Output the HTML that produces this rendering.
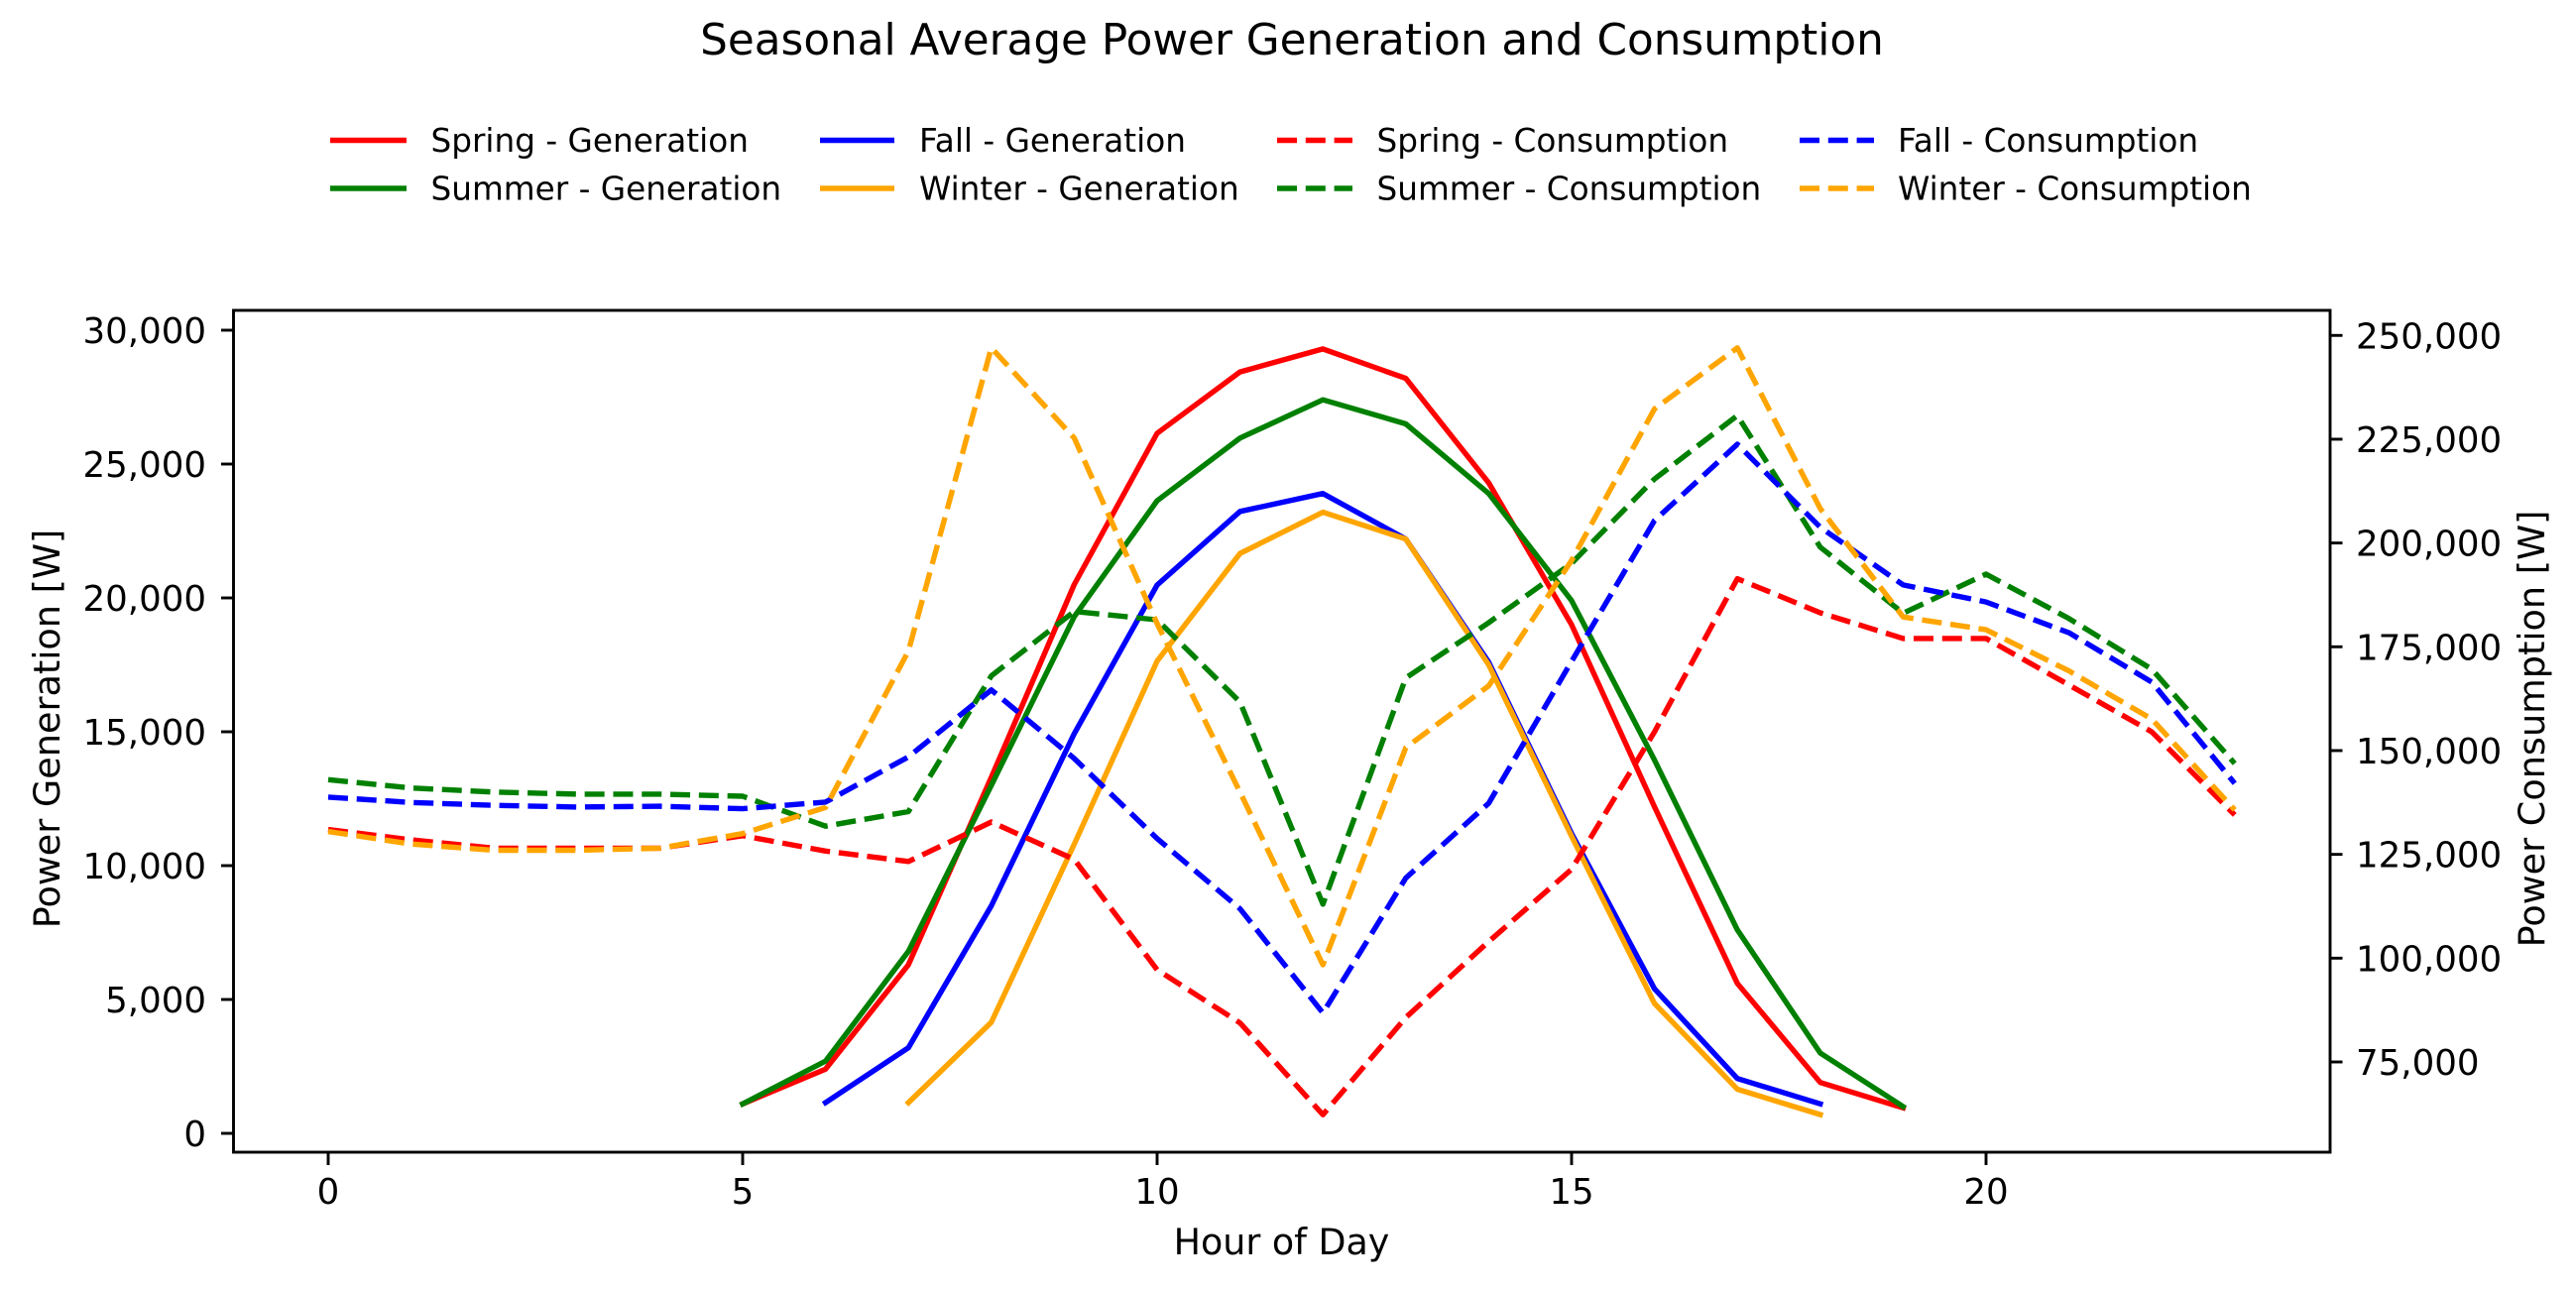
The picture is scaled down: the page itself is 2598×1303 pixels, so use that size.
<!DOCTYPE html>
<html lang="en">
<head>
<meta charset="utf-8">
<title>Seasonal Average Power Generation and Consumption</title>
<style>
html,body{margin:0;padding:0;background:#fff;}
svg{display:block;}
text{font-family:"DejaVu Sans","Liberation Sans",sans-serif;fill:#000;}
</style>
</head>
<body>
<svg id="chart" xmlns="http://www.w3.org/2000/svg" width="2598" height="1303" viewBox="0 0 2598 1303">
<rect x="0" y="0" width="2598" height="1303" fill="#fff"/>
<text x="1303" y="55" font-size="43.7" text-anchor="middle">Seasonal Average Power Generation and Consumption</text>
<g id="legend"></g>
<g id="marks"></g>
<rect x="235.5" y="313" width="2114.5" height="849" fill="none" stroke="#000" stroke-width="2.9"/>
<g id="axes"></g>
<text x="1292.5" y="1265" font-size="36.4" text-anchor="middle">Hour of Day</text>
<text transform="translate(60 735) rotate(-90)" font-size="36.6" text-anchor="middle">Power Generation [W]</text>
<text transform="translate(2566 735) rotate(-90)" font-size="36.6" text-anchor="middle">Power Consumption [W]</text>
</svg>
<script>
const hours = [0,1,2,3,4,5,6,7,8,9,10,11,12,13,14,15,16,17,18,19,20,21,22,23];
const xTicks = [0,5,10,15,20];
const leftTicks = [0,5000,10000,15000,20000,25000,30000];
const rightTicks = [75000,100000,125000,150000,175000,200000,225000,250000];

const springGeneration = [null,null,null,null,null,1100,2400,6300,13300,20500,26150,28440,29300,28200,24300,19000,12200,5600,1900,950,null,null,null,null];
const summerGeneration = [null,null,null,null,null,1100,2700,6800,13000,19300,23630,25970,27400,26500,23900,19900,13950,7600,3000,1000,null,null,null,null];
const fallGeneration = [null,null,null,null,null,null,1150,3200,8500,14930,20480,23230,23900,22200,17600,11200,5400,2050,1100,null,null,null,null,null];
const winterGeneration = [null,null,null,null,null,null,null,1150,4150,10800,17640,21660,23200,22200,17500,11100,4850,1650,700,null,null,null,null,null];

const springConsumption = [131000,128500,126500,126500,126500,129500,125800,123300,132800,123800,97200,84400,62300,85700,104000,121400,154500,191400,183200,177000,177000,165800,154500,134500];
const summerConsumption = [143000,141000,140000,139500,139500,139000,131800,135300,168000,183500,181500,161700,113000,167500,180800,195100,215400,230700,199000,183100,192500,181800,169600,146900];
const fallConsumption = [138800,137500,136800,136400,136600,136000,137600,148500,164600,148100,128800,111900,86800,119300,137300,171500,205400,223800,203800,189900,185800,178400,166500,142100];
const winterConsumption = [130500,127500,126000,126000,126500,130000,136300,174000,247000,225300,180600,140000,98400,150700,165600,195800,232300,247000,208300,182200,179100,169200,157600,135700];

const RED = '#ff0000', GREEN = '#008000', BLUE = '#0000ff', ORANGE = '#ffa500';
const NS = 'http://www.w3.org/2000/svg';

function xScale(h){ return 331 + 83.6 * h; }
function yLeft(v){ return 1143 - 0.027 * v; }
function yRight(v){ return 1071 - (v - 75000) * 0.004187; }

function make(tag, attrs, parent){
  const el = document.createElementNS(NS, tag);
  for (const k in attrs) el.setAttribute(k, attrs[k]);
  parent.appendChild(el);
  return el;
}

const marks = document.getElementById('marks');
const axes = document.getElementById('axes');
const legend = document.getElementById('legend');

function drawSeries(values, yFn, color, dashed, name){
  const pts = [];
  values.forEach(function(v, i){
    if (v !== null) pts.push(xScale(hours[i]).toFixed(1) + ',' + yFn(v).toFixed(1));
  });
  const line = make('polyline', {
    points: pts.join(' '), fill: 'none', stroke: color, 'stroke-width': 5.4,
    'stroke-linejoin': 'round', 'stroke-linecap': dashed ? 'butt' : 'square'
  }, marks);
  if (dashed) line.setAttribute('stroke-dasharray', '20 8.8');
  
  
}

drawSeries(springGeneration, yLeft, RED, false, 'spring-generation-line');
drawSeries(summerGeneration, yLeft, GREEN, false, 'summer-generation-line');
drawSeries(fallGeneration, yLeft, BLUE, false, 'fall-generation-line');
drawSeries(winterGeneration, yLeft, ORANGE, false, 'winter-generation-line');
drawSeries(springConsumption, yRight, RED, true, 'spring-consumption-line');
drawSeries(summerConsumption, yRight, GREEN, true, 'summer-consumption-line');
drawSeries(fallConsumption, yRight, BLUE, true, 'fall-consumption-line');
drawSeries(winterConsumption, yRight, ORANGE, true, 'winter-consumption-line');

function fmt(v){ return v.toLocaleString('en-US'); }

xTicks.forEach(function(t){
  const x = xScale(t);
  const tick = make('line', {x1:x, x2:x, y1:1162, y2:1175, stroke:'#000', 'stroke-width':2.9}, axes);
  
  
  const label = make('text', {x:x, y:1214, 'font-size':35.6, 'text-anchor':'middle'}, axes);
  label.textContent = String(t);
  
  
});

leftTicks.forEach(function(t){
  const y = yLeft(t);
  const tick = make('line', {x1:223, x2:235.5, y1:y, y2:y, stroke:'#000', 'stroke-width':2.9}, axes);
  
  
  const label = make('text', {x:208, y:y+13, 'font-size':35.6, 'text-anchor':'end'}, axes);
  label.textContent = fmt(t);
  
  
});

rightTicks.forEach(function(t){
  const y = yRight(t);
  const tick = make('line', {x1:2350, x2:2362.5, y1:y, y2:y, stroke:'#000', 'stroke-width':2.9}, axes);
  
  
  const label = make('text', {x:2376, y:y+13, 'font-size':35.6, 'text-anchor':'start'}, axes);
  label.textContent = fmt(t);
  
  
});

function drawLegend(x1, x2, tx, y, color, dashed, text, name){
  const h = make('line', {x1:x1, x2:x2, y1:y, y2:y, stroke:color, 'stroke-width':5.4}, legend);
  if (dashed) h.setAttribute('stroke-dasharray', '20 8.8');
  
  
  const t = make('text', {x:tx, y:y+11.5, 'font-size':32.7}, legend);
  t.textContent = text;
  
  
}

drawLegend(333, 410, 434.5, 141.5, RED, false, 'Spring - Generation', 'spring-generation');
drawLegend(333, 410, 434.5, 190, GREEN, false, 'Summer - Generation', 'summer-generation');
drawLegend(827, 902, 927, 141.5, BLUE, false, 'Fall - Generation', 'fall-generation');
drawLegend(827, 902, 927, 190, ORANGE, false, 'Winter - Generation', 'winter-generation');
drawLegend(1288, 1364, 1388.5, 141.5, RED, true, 'Spring - Consumption', 'spring-consumption');
drawLegend(1288, 1364, 1388.5, 190, GREEN, true, 'Summer - Consumption', 'summer-consumption');
drawLegend(1815, 1890, 1914, 141.5, BLUE, true, 'Fall - Consumption', 'fall-consumption');
drawLegend(1815, 1890, 1914, 190, ORANGE, true, 'Winter - Consumption', 'winter-consumption');
</script>
</body>
</html>
